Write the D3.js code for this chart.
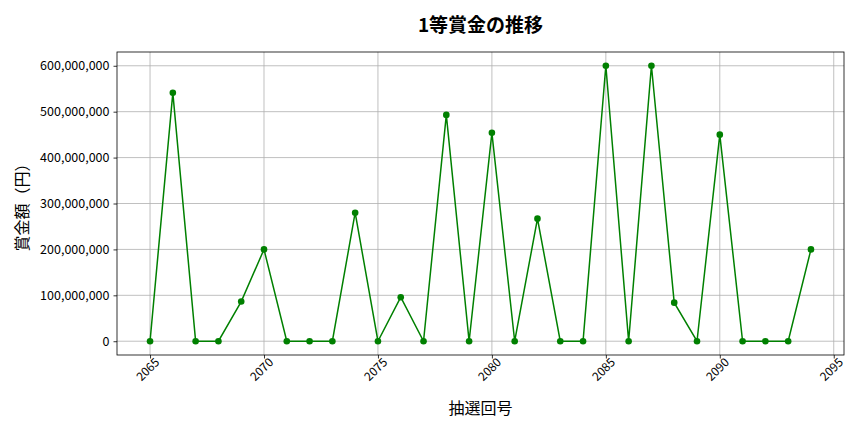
<!DOCTYPE html>
<html>
<head>
<meta charset="utf-8">
<script src="https://cdn.jsdelivr.net/npm/d3@7"></script>
<style>
  body { margin: 0; background: #fff; }
  text { font-family: "Noto Sans CJK JP", "Noto Sans", sans-serif; }
</style>
</head>
<body>
<svg id="chart" width="864" height="432"></svg>
<script>
// draw numbers and 1st prize amounts (yen)
const draws = [2065, 2066, 2067, 2068, 2069, 2070, 2071, 2072, 2073, 2074,
  2075, 2076, 2077, 2078, 2079, 2080, 2081, 2082, 2083, 2084,
  2085, 2086, 2087, 2088, 2089, 2090, 2091, 2092, 2093, 2094];
const prizes = [0, 541000000, 0, 0, 86400000, 200000000, 0, 0, 0, 280000000,
  0, 95800000, 0, 493000000, 0, 454000000, 0, 267000000, 0, 0,
  600000000, 0, 600000000, 84000000, 0, 450000000, 0, 0, 0, 200000000];
const xTicks = [2065, 2070, 2075, 2080, 2085, 2090, 2095];
const yTicks = [0, 100000000, 200000000, 300000000, 400000000, 500000000, 600000000];

const data = draws.map((d, i) => ({ draw: d, prize: prizes[i] }));

const margin = { top: 52, right: 20, bottom: 77, left: 117 };
const width = 864 - margin.left - margin.right;
const height = 432 - margin.top - margin.bottom;

const svg = d3.select('#chart');
const g = svg.append('g').attr('transform', 'translate(' + margin.left + ',' + margin.top + ')');

// matplotlib style 5% padding
const xPad = (d3.max(draws) - d3.min(draws)) * 0.05;
const yPad = d3.max(prizes) * 0.05;
const x = d3.scaleLinear().domain([d3.min(draws) - xPad, d3.max(draws) + xPad]).range([0, width]);
const y = d3.scaleLinear().domain([-yPad, d3.max(prizes) + yPad]).range([height, 0]);

// grid
g.append('g').selectAll('line').data(xTicks).join('line')
  .attr('x1', d => x(d)).attr('x2', d => x(d)).attr('y1', 0).attr('y2', height)
  .attr('stroke', '#b0b0b0').attr('stroke-width', 0.8);
g.append('g').selectAll('line').data(yTicks).join('line')
  .attr('x1', 0).attr('x2', width).attr('y1', d => y(d)).attr('y2', d => y(d))
  .attr('stroke', '#b0b0b0').attr('stroke-width', 0.8);

// axes
const xAxis = g.append('g').attr('transform', 'translate(0,' + height + ')')
  .call(d3.axisBottom(x).tickValues(xTicks).tickFormat(d3.format('d')).tickSize(3.5).tickPadding(3));
xAxis.selectAll('text')
  .attr('font-size', 12).attr('fill', '#000')
  .attr('text-anchor', 'end')
  .attr('dx', '0.1em').attr('dy', '0.5em')
  .attr('transform', 'rotate(-45)');

const yAxis = g.append('g')
  .call(d3.axisLeft(y).tickValues(yTicks).tickFormat(d3.format(',')).tickSize(3.5).tickPadding(4));
yAxis.selectAll('text').attr('font-size', 12.5).attr('fill', '#000');

[xAxis, yAxis].forEach(a => {
  a.select('.domain').remove();
  a.selectAll('line').attr('stroke', '#000').attr('stroke-width', 0.8);
});

// frame
g.append('rect').attr('width', width).attr('height', height)
  .attr('fill', 'none').attr('stroke', '#000').attr('stroke-width', 0.8);

// line + markers
const line = d3.line().x(d => x(d.draw)).y(d => y(d.prize));
g.append('path').datum(data)
  .attr('fill', 'none').attr('stroke', 'green').attr('stroke-width', 1.5)
  .attr('d', line);
g.append('g').selectAll('circle').data(data).join('circle')
  .attr('cx', d => x(d.draw)).attr('cy', d => y(d.prize)).attr('r', 3.3)
  .attr('fill', 'green');

// labels
svg.append('text').attr('x', margin.left + width / 2).attr('y', 32)
  .attr('text-anchor', 'middle').attr('font-size', 19).attr('font-weight', 'bold')
  .text('1等賞金の推移');
svg.append('text').attr('x', margin.left + width / 2).attr('y', 414)
  .attr('text-anchor', 'middle').attr('font-size', 16)
  .text('抽選回号');
svg.append('text')
  .attr('transform', 'translate(28,' + (margin.top + height / 2) + ') rotate(-90)')
  .attr('text-anchor', 'middle').attr('font-size', 16)
  .text('賞金額（円）');
</script>
</body>
</html>
